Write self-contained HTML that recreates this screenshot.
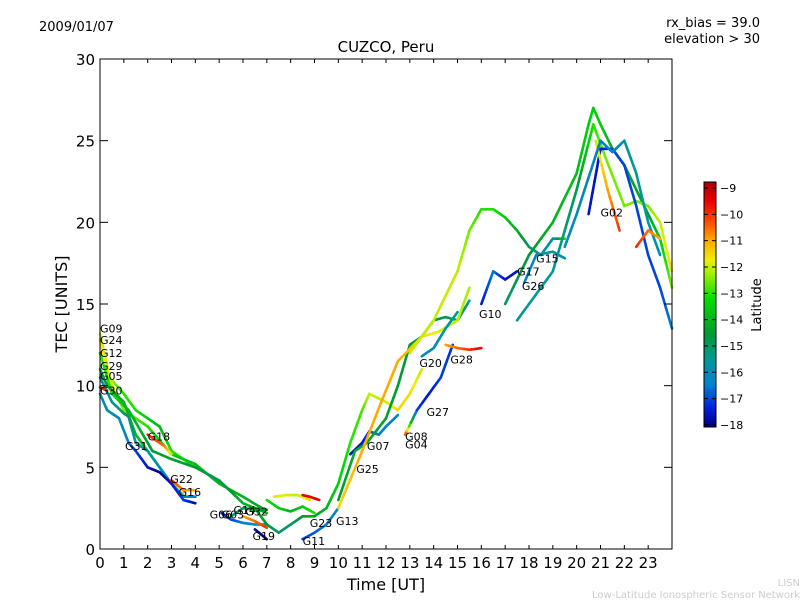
<!DOCTYPE html>
<html><head><meta charset="utf-8"><style>
html,body{margin:0;padding:0;background:#fff;}
svg{display:block;font-family:"DejaVu Sans","Liberation Sans",sans-serif;}
</style></head><body>
<svg id="chart" width="800" height="600" viewBox="0 0 800 600">
<defs>
<linearGradient id="cbgrad" x1="0" y1="1" x2="0" y2="0">
<stop offset="0" stop-color="#000080"/><stop offset="0.08" stop-color="#0020e0"/>
<stop offset="0.17" stop-color="#0080d0"/><stop offset="0.27" stop-color="#009999"/>
<stop offset="0.38" stop-color="#009933"/><stop offset="0.52" stop-color="#00dd00"/>
<stop offset="0.62" stop-color="#99ee00"/><stop offset="0.68" stop-color="#eeee00"/>
<stop offset="0.76" stop-color="#ffaa00"/><stop offset="0.83" stop-color="#ff5500"/>
<stop offset="0.92" stop-color="#ee0000"/><stop offset="1" stop-color="#aa0000"/>
</linearGradient>
</defs>
<text x="39" y="31" font-size="13">2009/01/07</text>
<text x="760" y="27" font-size="13" text-anchor="end">rx_bias = 39.0</text>
<text x="760" y="43" font-size="13" text-anchor="end">elevation &gt; 30</text>
<text x="386" y="52" font-size="15" text-anchor="middle">CUZCO, Peru</text>
<g id="marks"></g>
<g id="labels"></g>
<rect x="100" y="59" width="572" height="490" fill="none" stroke="#000" stroke-width="1"/>
<g id="axes"></g>
<text transform="translate(67,304) rotate(-90)" font-size="16" text-anchor="middle">TEC [UNITS]</text>
<text x="386" y="590" font-size="16" text-anchor="middle">Time [UT]</text>
<rect x="704" y="182" width="12" height="245" fill="url(#cbgrad)" stroke="#000" stroke-width="1"/>
<g id="cbticks"></g>
<text transform="translate(761,305) rotate(-90)" font-size="13" text-anchor="middle">Latitude</text>
<text x="800" y="586" font-size="10" fill="#cccccc" text-anchor="end">LISN</text>
<text x="800" y="598" font-size="10" fill="#cccccc" text-anchor="end">Low-Latitude Ionospheric Sensor Network</text>
</svg>
<script>
const xTicks=[0,1,2,3,4,5,6,7,8,9,10,11,12,13,14,15,16,17,18,19,20,21,22,23];
const yTicks=[0,5,10,15,20,25,30];
const cbTicks=[-9,-10,-11,-12,-13,-14,-15,-16,-17,-18];
const trkT=[
[0,0.4,1,1.5,2.5,3,4],
[0,0.5,1,2,3,4,5,6,6.8],
[0,0.5,1.2,1.6,2.2,3,4,5,5.5,6,7],
[0,0.3,1,1.5,2,2.5,3,3.5],
[0,0.5,1,1.2,1.5,2,2.5,3,3.5,4],
[0,0.3,0.8,1.2,1.5,2,2.5,3,3.5,4],
[0,0.3],
[2,2.7,3],
[3,3.5,4],
[5.1,5.5,6,6.5,7],
[5.5,6,6.5,7],
[7.3,7.8,8.3,8.8],
[6.5,7],
[6,6.5,7],
[6.5,7,7.5,8,8.5,9],
[7,7.5,8,8.5,9],
[8.5,8.8,9.2],
[8.5,9,9.5,10],
[9,9.5,10,10.5,11,11.3,12,12.5,13,13.5],
[10.5,11,11.3,11.7,12,12.5],
[10,10.7,11.2,12,12.5,13,13.5,14,14.5,15,15.5],
[10,11,11.8,12.5,13.5,14.2,15,15.5],
[13,14,15,15.5,16,16.5,17,17.5,18,18.5,19,19.5],
[17,18,19,20,20.5,20.7,21,21.5,22,22.5,23,23.5,24],
[17.5,19,20,20.7,21.2,22,22.5,23,23.5,24],
[20.5,21,21.5,22,22.5,23,23.5,24],
[20.8,21.3,21.8],
[19.5,20,21,21.5,22,22.5,23,23.5],
[16,16.5,17,17.5],
[17.8,18.3,19,19.5],
[22.5,23,23.5],
[12.8,13.3,13.8,14.3,14.8],
[13.5,14,14.5,15],
[14.5,15,15.5,16]
];
const trkV=[
[13.2,10.5,9.5,8.5,7.5,6,5],
[12.8,10,8.5,7.5,5.8,5.2,4,3.2,2.5],
[12,9.5,8.5,7.5,6,5.5,5,4.2,3.5,2.8,2.2],
[11,10,9,7,6,5,4,3.3],
[10.5,9,8.3,8.1,6.5,6,5,4,3.2,3.2],
[9.5,8.5,8,6.5,6,5,4.7,4,3,2.8],
[9.9,9.7],
[7,6.3,5.8],
[4.2,3.6,3.6],
[2.2,1.8,1.6,1.5,1.5],
[2,2.5,2.4,2.4],
[3.2,3.3,3.3,3],
[1.2,0.6],
[2,1.7,1.3],
[2.5,1.5,1,1.5,2,2],
[3,2.5,2.3,2.6,2.2],
[3.3,3.2,3],
[0.6,1,1.5,2.5],
[2,2.5,4,6.5,8.5,9.5,9,8.5,9.5,11],
[5.8,6.5,7.2,7,7.5,8.2],
[3,6,6.5,8,10,12.5,13,14,14.2,14,15.2],
[2.5,6,9,11.5,13,13.3,14,16],
[12,14,17,19.5,20.8,20.8,20.3,19.5,18.5,18,19,19],
[15,18,20,23,26,27,26,24.5,23.5,22,20.5,19,16],
[14,17,22,26,24,21,21.3,21,20,17],
[20.5,24.5,24.5,23.5,21,18,16,13.5],
[25,22,19.5],
[18.5,20.5,25,24.3,25,23,20,18],
[15,17,16.5,17],
[16.3,18,18.2,17.8],
[18.5,19.5,19],
[7,8.5,9.5,10.5,12.5],
[11.8,12.3,13.5,14.5],
[12.5,12.3,12.2,12.3]
];
const trkL=[
[-12,-12,-13,-13,-14,-13,-13],
[-11.5,-12,-12.5,-13,-13.5,-13.8,-14,-14,-14.2],
[-13,-13,-14,-14,-14.5,-14.3,-14.5,-14.8,-14.5,-14,-14],
[-15,-14.5,-14,-14,-13.5,-13,-12.5,-12.5],
[-15.5,-15.5,-15,-15,-15.5,-15.5,-16,-16,-16,-16.5],
[-16,-16,-16,-16.5,-17,-17.5,-18,-17.5,-17,-17.8],
[-9.5,-10],
[-9.8,-10.5,-12],
[-9.8,-10.8,-11],
[-17.5,-17,-16.5,-16,-16],
[-15,-15,-14.5,-14.5],
[-11.8,-11.8,-12,-11.5],
[-17.8,-18],
[-11,-10.5,-10],
[-14,-14.5,-15,-15,-14.5,-14],
[-13,-13.5,-14,-13.5,-13],
[-9.5,-9.5,-9.5],
[-17,-16.8,-16.5,-16],
[-14.5,-14,-13.5,-13,-12.8,-12,-12,-11.5,-11.5,-12],
[-17.5,-17.5,-17,-16.5,-16.5,-16.3],
[-14.5,-14,-14.3,-14.3,-14.5,-14.5,-14.5,-14.6,-14.8,-15,-15.5],
[-11.5,-11,-11,-11,-11.5,-11.8,-12,-12.2],
[-12,-12,-12,-12.5,-13,-13,-13.5,-14,-15,-15.5,-16,-13],
[-15,-14.5,-14,-13.8,-13.5,-13.5,-13.5,-14,-14.2,-14.2,-14.5,-13.5,-12.5],
[-15.5,-15.5,-14.8,-13,-12.5,-12.5,-12.5,-12.5,-12,-11.5],
[-17.5,-17.5,-17,-17,-17,-17,-17,-16.5],
[-12,-11,-10],
[-16,-16,-16.3,-16.5,-15.5,-15.5,-15.5,-16],
[-17.5,-16.5,-17.5,-17.5],
[-16.5,-16,-15.5,-16],
[-9.8,-10.5,-11],
[-9.8,-17,-17.5,-17,-17.2],
[-16,-16,-15.5,-15.5],
[-11,-10.5,-10,-9.5]
];
const satNames=["G09","G24","G12","G29","G05","G31","G18","G22","G16","G06","G03","G14","G32","G19","G11","G23","G13","G25","G07","G08","G04","G27","G20","G28","G10","G17","G26","G15","G02","G30"];
const satT=[0,0,0,0,0,1.05,2,2.95,3.3,4.6,5.1,5.6,6.1,6.4,8.5,8.8,9.9,10.75,11.2,12.8,12.8,13.7,13.4,14.7,15.9,17.5,17.7,18.3,21,0];
const satV=[13.5,12.8,12,11.2,10.6,6.3,6.9,4.3,3.5,2.1,2.1,2.4,2.3,0.8,0.5,1.6,1.7,4.9,6.3,6.9,6.4,8.4,11.4,11.6,14.4,17,16.1,17.8,20.6,9.7];

const NS="http://www.w3.org/2000/svg";
const X0=100,X1=672,Y0=549,Y1=59;
function xs(t){return X0+t*(X1-X0)/24;}
function ys(v){return Y0-v*(Y0-Y1)/30;}
function cbY(l){return 427-(l+18.08)*(245/9.31);}
const cstops=[[-18,[0,0,128]],[-17.3,[0,32,224]],[-16.5,[0,128,208]],[-15.5,[0,153,153]],[-14.5,[0,153,51]],[-13.2,[0,221,0]],[-12.3,[153,238,0]],[-11.7,[238,238,0]],[-11,[255,170,0]],[-10.3,[255,85,0]],[-9.5,[238,0,0]],[-8.75,[170,0,0]]];
function col(l){
  if(l<=cstops[0][0])return "rgb(0,0,128)";
  for(let i=1;i<cstops.length;i++){if(l<=cstops[i][0]){const a=cstops[i-1],b=cstops[i];const f=(l-a[0])/(b[0]-a[0]);const c=a[1].map((v,k)=>Math.round(v+(b[1][k]-v)*f));return "rgb("+c.join(",")+")";}}
  return "rgb(170,0,0)";
}
const marks=document.getElementById('marks');
for(let k=0;k<trkT.length;k++){
  const g=document.createElementNS(NS,'g');
  
  
  const T=trkT[k],V=trkV[k],L=trkL[k];
  for(let i=0;i<T.length-1;i++){
    const n=6;
    for(let j=0;j<n;j++){
      const f0=j/n,f1=(j+1)/n;
      const ln=document.createElementNS(NS,'line');
      ln.setAttribute('x1',xs(T[i]+(T[i+1]-T[i])*f0));ln.setAttribute('y1',ys(V[i]+(V[i+1]-V[i])*f0));
      ln.setAttribute('x2',xs(T[i]+(T[i+1]-T[i])*f1));ln.setAttribute('y2',ys(V[i]+(V[i+1]-V[i])*f1));
      ln.setAttribute('stroke',col(L[i]+(L[i+1]-L[i])*(f0+f1)/2));
      ln.setAttribute('stroke-width','2.6');ln.setAttribute('stroke-linecap','round');
      g.appendChild(ln);
    }
  }
  marks.appendChild(g);
}
const labs=document.getElementById('labels');
for(let i=0;i<satNames.length;i++){
  const t=document.createElementNS(NS,'text');
  
  
  t.setAttribute('x',xs(satT[i]));t.setAttribute('y',ys(satV[i])+4);
  t.setAttribute('font-size','11');t.textContent=satNames[i];labs.appendChild(t);
}
const ax=document.getElementById('axes');
function ln(x1,y1,x2,y2,p){const l=document.createElementNS(NS,'line');l.setAttribute('x1',x1);l.setAttribute('y1',y1);l.setAttribute('x2',x2);l.setAttribute('y2',y2);l.setAttribute('stroke','#000');l.setAttribute('stroke-width','1');p.appendChild(l);return l;}
function tx(x,y,s,a,fs,p){const t=document.createElementNS(NS,'text');t.setAttribute('x',x);t.setAttribute('y',y);t.setAttribute('text-anchor',a);t.setAttribute('font-size',fs);t.textContent=s;p.appendChild(t);return t;}
xTicks.forEach(v=>{const x=xs(v);
  const a=ln(x,Y0,x,Y0-4,ax);
  ln(x,Y1,x,Y1+4,ax);
  const t=tx(x,568,String(v),'middle',15,ax);});
yTicks.forEach(v=>{const y=ys(v);
  const a=ln(X0,y,X0+8,y,ax);
  ln(X1,y,X1-8,y,ax);
  const t=tx(95,y+6,String(v),'end',15,ax);});
const cb=document.getElementById('cbticks');
cbTicks.forEach(v=>{const y=cbY(v);
  const a=ln(704,y,708,y,cb);
  ln(716,y,712,y,cb);
  const t=tx(720,y+4,'\u2212'+Math.abs(v),'start',11,cb);});
</script>
</body></html>
